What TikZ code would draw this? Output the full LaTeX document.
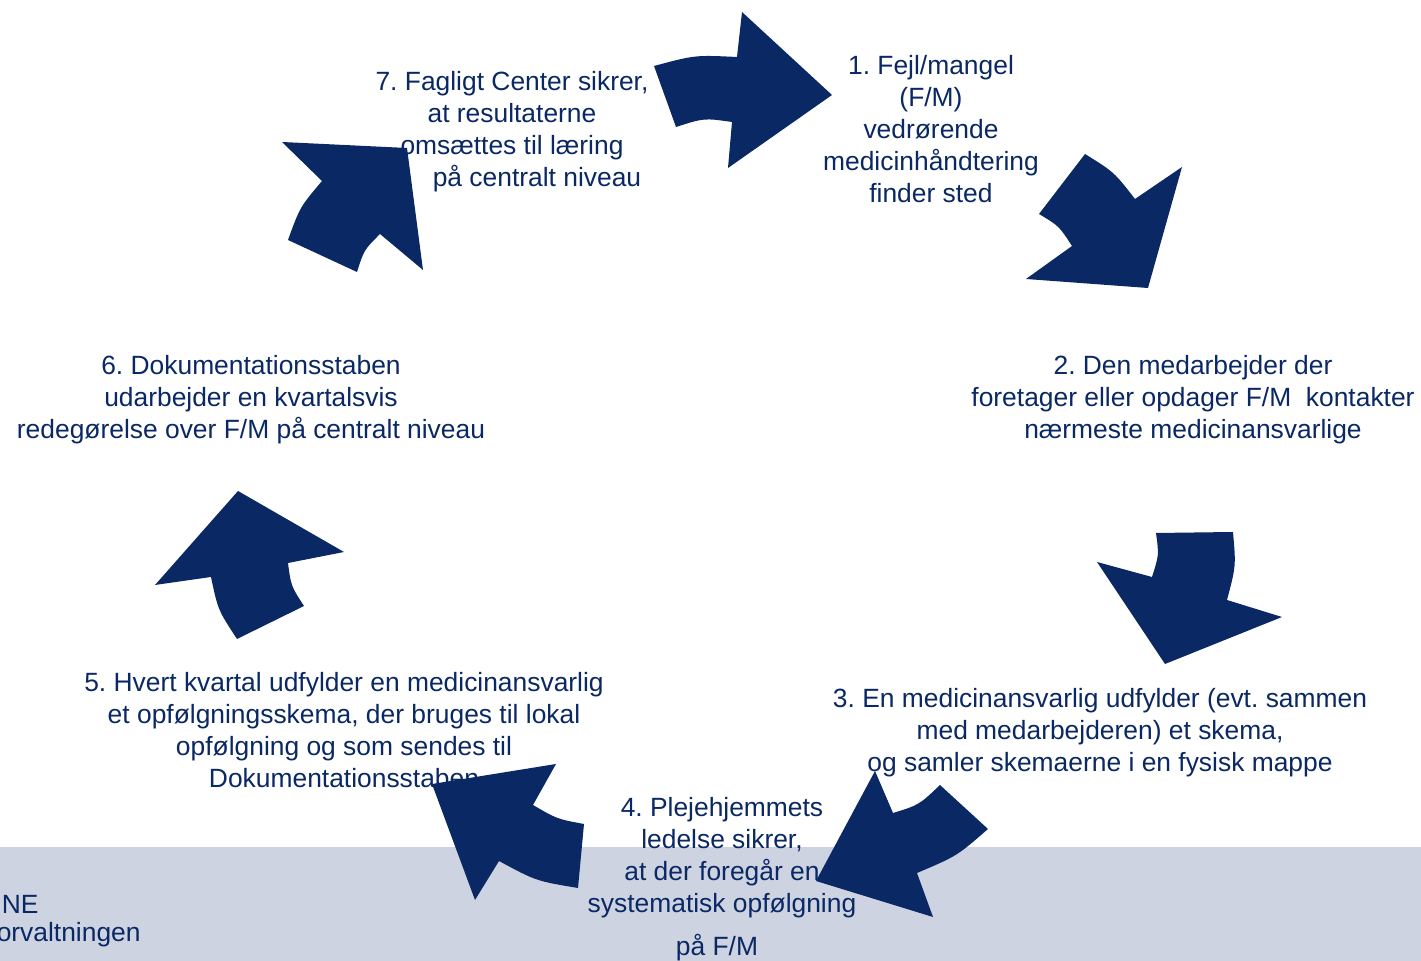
\documentclass[tikz,border=0pt]{standalone}
\usepackage{fontspec}
\setmainfont{Liberation Sans}
\definecolor{navy}{HTML}{0A2864}
\definecolor{bandcol}{HTML}{CDD3E1}
\begin{document}
\frenchspacing
\begin{tikzpicture}[x=0.5pt,y=-0.5pt,
  txt/.style={text=navy, align=center, inner sep=0pt, font=\fontsize{13.2}{16}\selectfont},
  blockarrow/.style={fill=navy, draw=none}]
\useasboundingbox (0,0) rectangle (1421,961);
\fill[white] (0,0) rectangle (1421,961);
\fill[bandcol] (0,847) rectangle (1421,961);

% texts
\node[txt] (t1) at (931,129) {1. Fejl/mangel\\(F/M)\\vedrørende\\medicinhåndtering\\finder sted};
\node[txt] (t2) at (1193,400) {2. Den medarbejder der\\foretager eller opdager F/M\ \ kontakter\\nærmeste medicinansvarlige};
\node[txt] (t3) at (1100,733) {3. En medicinansvarlig udfylder (evt. sammen\\med medarbejderen) et skema,\\og samler skemaerne i en fysisk mappe};
\node[txt] (t4) at (722,879) {4. Plejehjemmets\\ledelse sikrer,\\at der foregår en\\systematisk opfølgning\\[5.5pt]på F/M\hspace*{5pt}};
\node[txt] (t5) at (344,730) {5. Hvert kvartal udfylder en medicinansvarlig\\et opfølgningsskema, der bruges til lokal\\opfølgning og som sendes til\\Dokumentationsstaben};
\node[txt] (t6) at (251,400) {6. Dokumentationsstaben\\udarbejder en kvartalsvis\\redegørelse over F/M på centralt niveau};
\node[txt] (t7) at (512,132) {7. Fagligt Center sikrer,\\at resultaterne\\omsættes til læring\\\hspace*{25pt}på centralt niveau};
\node[txt, anchor=east] (b1) at (39,904) {NE};
\node[txt, anchor=east] (b2) at (141,935) {orvaltningen};

% block arrows
% 7 -> 1
\fill[blockarrow] (654,66) .. controls (695,55) .. (737,57) -- (742,12) -- (832,95) -- (728,168) -- (732,122)
  .. controls (704,118) .. (676,127) -- cycle;
% 1 -> 2
\fill[blockarrow] (1085,154) .. controls (1114,172) .. (1135,199) -- (1182,167) -- (1148,288) -- (1026,279) -- (1072,246)
  .. controls (1059,226) .. (1039,214) -- cycle;
% 2 -> 3
\fill[blockarrow] (1156,533) -- (1233,532) .. controls (1236,566) .. (1227,600) -- (1282,617) -- (1165,664) -- (1097,562) -- (1152,577)
  .. controls (1159,555) .. (1156,533) -- cycle;
% 3 -> 4
\fill[blockarrow] (940,785) -- (988,829) .. controls (957,856) .. (917,873) -- (933,917) -- (816,881) -- (875,771) -- (893,813)
  .. controls (919,805) .. (940,785) -- cycle;
% 4 -> 5
\fill[blockarrow] (584,824) -- (578,888) .. controls (536,881) .. (499,861) -- (475,900) -- (432,784) -- (556,764) -- (533,805)
  .. controls (557,819) .. (584,824) -- cycle;
% 5 -> 6
\fill[blockarrow] (304,606) -- (237,639) .. controls (218,610) .. (211,577) -- (155,585) -- (238,491) -- (344,552) -- (288,563)
  .. controls (291,586) .. (304,606) -- cycle;
% 6 -> 7
\fill[blockarrow] (357,272) -- (288,240) .. controls (300,207) .. (322,181) -- (282,142) -- (407,148) -- (423,270) -- (380,234)
  .. controls (364,250) .. (357,272) -- cycle;
\end{tikzpicture}
\end{document}
